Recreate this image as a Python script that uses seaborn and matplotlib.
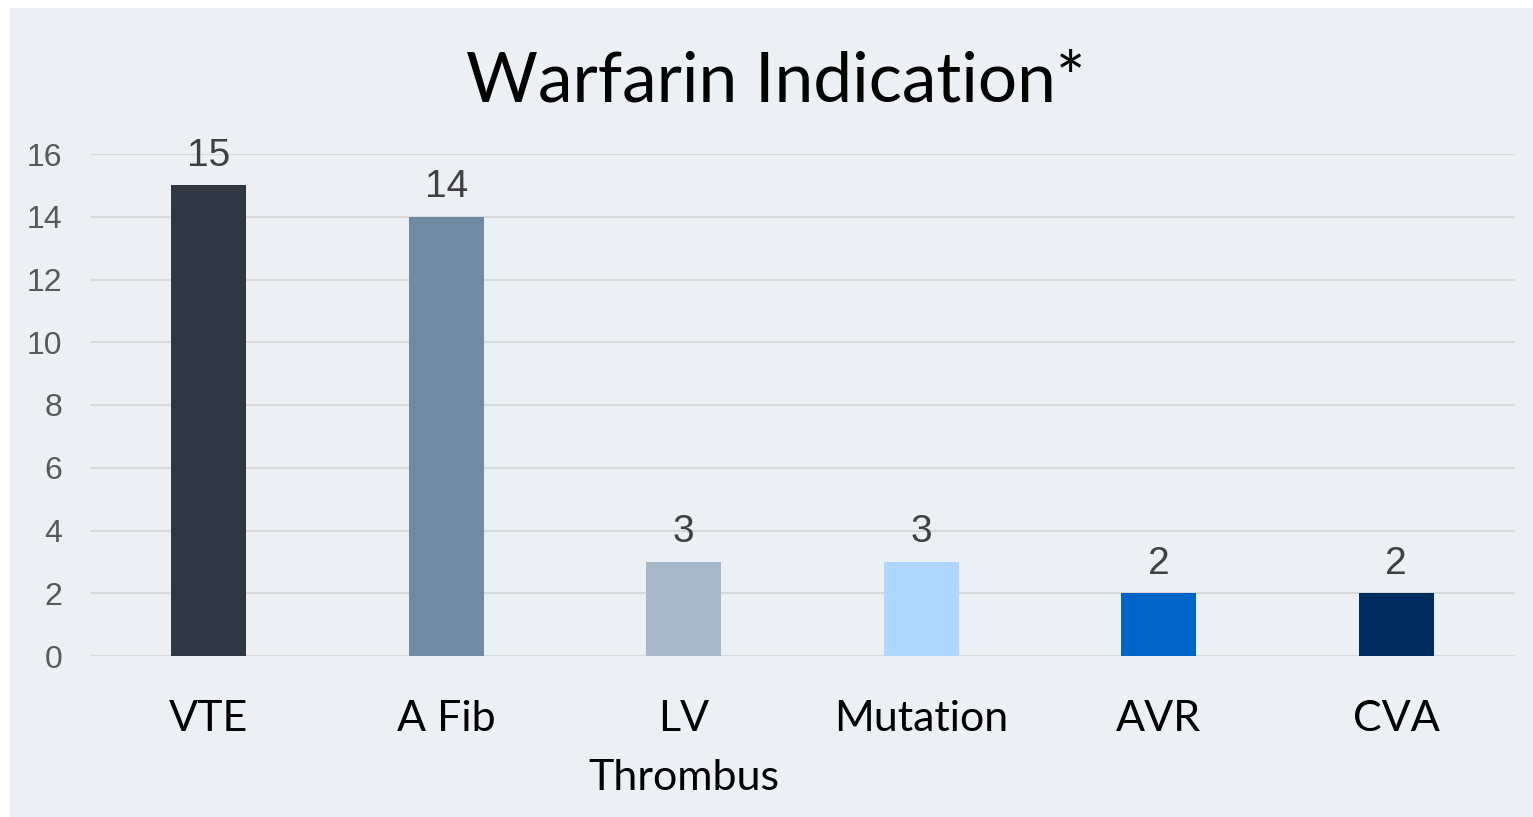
import numpy as np
import pandas as pd
import seaborn as sns
import matplotlib.pyplot as plt
from matplotlib.patches import Rectangle

# data
categories = ["VTE", "A Fib", "LV\nThrombus", "Mutation", "AVR", "CVA"]
counts = [15, 14, 3, 3, 2, 2]
bar_colors = ["#2E3742", "#6F8BA4", "#A9B8C8", "#AFD6FE", "#0065C9", "#002D5F"]
y_ticks = [0, 2, 4, 6, 8, 10, 12, 14, 16]

df = pd.DataFrame({"Indication": categories, "Count": counts})

sns.set_style("white")
plt.rcParams["font.family"] = ["Lato", "DejaVu Sans"]

fig = plt.figure(figsize=(15.33, 8.17), dpi=100, facecolor="white")
# light panel behind the chart
fig.patches.append(Rectangle((10 / 1533, 0), 1 - 10 / 1533, 1 - 8 / 817,
                             transform=fig.transFigure, facecolor="#ECEFF3",
                             edgecolor="none", zorder=-10))

ax = fig.add_axes([90 / 1533, 1 - 656 / 817, (1515 - 90) / 1533, (656 - 154) / 817])
ax.set_facecolor("none")

sns.barplot(data=df, x="Indication", y="Count", hue="Indication",
            palette=bar_colors, saturation=1, width=0.316, linewidth=0,
            legend=False, ax=ax, zorder=3)

ax.set_ylim(0, 16)
ax.set_xlim(-0.5, 5.5)
ax.set_yticks(y_ticks)
ax.yaxis.grid(True, color="#D9D9D9", linewidth=1.6, zorder=0)
ax.set_axisbelow(True)
for s in ax.spines.values():
    s.set_visible(False)
ax.set_xlabel("")
ax.set_ylabel("")
ax.tick_params(axis="y", length=0, pad=20, labelsize=23, labelcolor="#595959")
ax.tick_params(axis="x", length=0, pad=32, labelsize=31, labelcolor="black")
for lab in ax.get_yticklabels():
    lab.set_fontfamily(["Liberation Sans", "DejaVu Sans"])
for lab in ax.get_xticklabels():
    lab.set_linespacing(1.65)

for i, v in enumerate(counts):
    ax.annotate(str(v), (i, v), xytext=(0, 14), textcoords="offset points",
                ha="center", va="baseline", fontsize=28, color="#404040",
                family=["Liberation Sans", "DejaVu Sans"], annotation_clip=False)

fig.text(776 / 1533, 1 - 102 / 817, "Warfarin Indication*", ha="center",
         va="baseline", fontsize=50, color="black")

fig.savefig("out.png", dpi=100)
